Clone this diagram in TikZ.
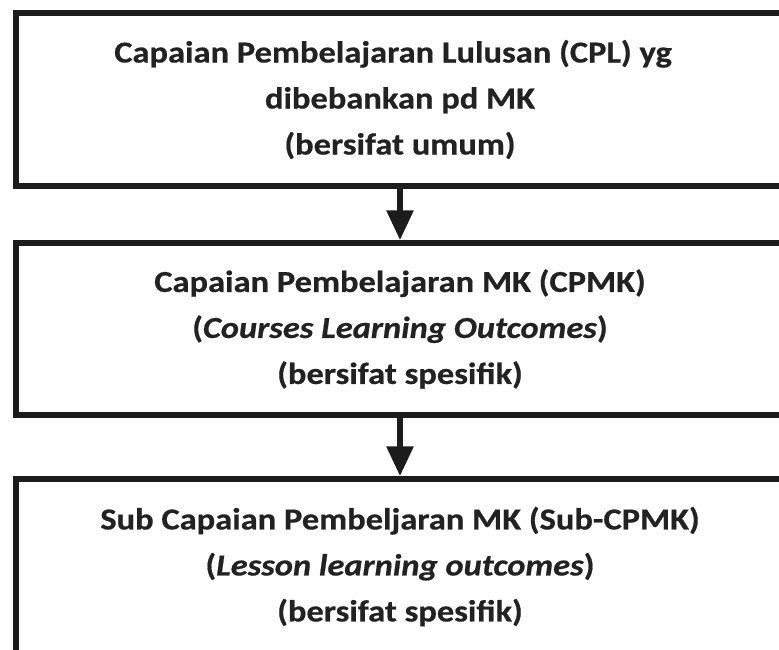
\documentclass[tikz,border=0pt]{standalone}
\usepackage{fontspec}
\setmainfont{Carlito}[FakeStretch=1.13,
  BoldFeatures={FakeBold=0.6}, BoldItalicFeatures={FakeBold=0.6}]
\usetikzlibrary{arrows.meta}

\definecolor{boxline}{HTML}{1C1C1C}
\definecolor{textgray}{HTML}{222222}

\tikzset{
  outcome/.style={draw=boxline, line width=5.5pt, minimum width=768pt,
    align=center, inner sep=0pt, text=textgray,
    font=\bfseries\fontsize{30.5}{46}\selectfont},
  flow/.style={draw=boxline, line width=6pt,
    -{Triangle[length=30pt,width=26pt]}}
}

\begin{document}
\begin{tikzpicture}
  % Frame of the picture
  \useasboundingbox (0,0) rectangle (779pt,-649pt);
  \clip (0,0) rectangle (779pt,-649pt);

  % The three levels of outcomes
  \node[outcome, minimum height=173pt] (cpl) at (400pt,-99.5pt)
    {Capaian Pembelajaran Lulusan (CPL) yg\hspace*{14pt}\\dibebankan pd MK\\(bersifat umum)};
  \node[outcome, minimum height=172pt] (cpmk) at (400pt,-329pt)
    {Capaian Pembelajaran MK (CPMK)\\(\textit{Courses Learning Outcomes})\\(bersifat spesifik)};
  \node[outcome, minimum height=175pt] (subcpmk) at (400pt,-566.5pt)
    {Sub Capaian Pembeljaran MK (Sub-CPMK)\\(\textit{Lesson learning outcomes})\\(bersifat spesifik)};

  % Arrows between the levels
  \draw[flow] (cpl.south) -- (cpmk.north);
  \draw[flow] (cpmk.south) -- (subcpmk.north);

\end{tikzpicture}
\end{document}
